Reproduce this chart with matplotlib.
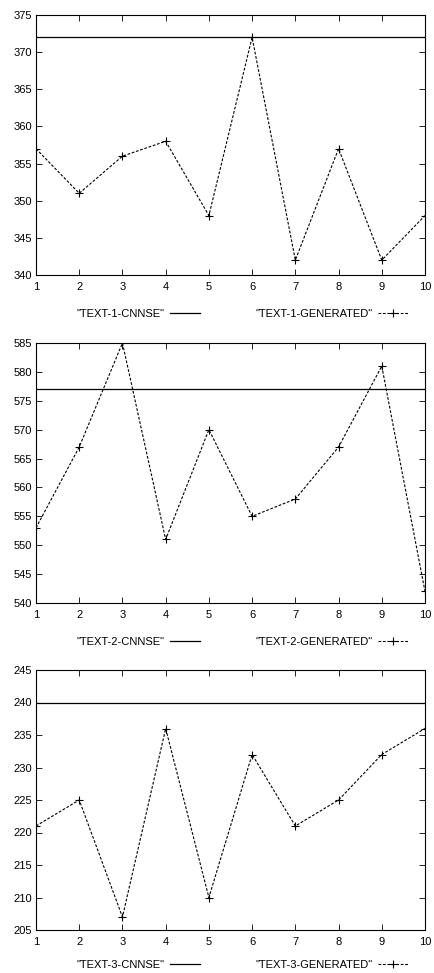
import matplotlib
matplotlib.use("Agg")
import matplotlib.pyplot as plt

x = [1, 2, 3, 4, 5, 6, 7, 8, 9, 10]
gen1 = [357, 351, 356, 358, 348, 372, 342, 357, 342, 348]
gen2 = [553, 567, 585, 551, 570, 555, 558, 567, 581, 542]
gen3 = [221, 225, 207, 236, 210, 232, 221, 225, 232, 236]
cnnse = [372, 577, 240]
ylims = [(340, 375), (540, 585), (205, 245)]
names = ["TEXT-1", "TEXT-2", "TEXT-3"]
gens = [gen1, gen2, gen3]

plt.rcParams['font.family'] = ['Liberation Sans', 'DejaVu Sans']
W, H = 434, 973
fig = plt.figure(figsize=(W / 100, H / 100), dpi=100)

tops = [15, 343, 670]
left, right = 36, 425
ph = 260
legy = [-0.1, -0.1, -0.085]
for i in range(3):
    top = tops[i]
    ax = fig.add_axes([left / W, 1 - (top + ph) / H, (right - left) / W, ph / H])
    ax.axhline(cnnse[i], color='black', lw=0.9, label='"%s-CNNSE"' % names[i])
    ax.plot(x, gens[i], color='black', lw=0.8, ls=(0, (2.5, 1.5)), marker='+',
            markersize=5.5, markeredgewidth=0.8, label='"%s-GENERATED"' % names[i])
    ax.set_xlim(1, 10)
    ax.set_ylim(*ylims[i])
    ax.set_xticks(x)
    lo, hi = ylims[i]
    ax.set_yticks(list(range(lo, hi + 1, 5)))
    ax.tick_params(direction='in', top=True, right=True, length=4, width=0.6,
                   labelsize=8, pad=3)
    ax.tick_params(axis='x', pad=5)
    for s in ax.spines.values():
        s.set_linewidth(0.8)
    leg = ax.legend(loc='upper center', bbox_to_anchor=(0.53, legy[i]), ncol=2,
                    frameon=False, markerfirst=False, fontsize=8,
                    handlelength=2.7, columnspacing=5.0, handletextpad=0.45,
                    borderpad=0.2)

fig.savefig("out.png", dpi=100)
